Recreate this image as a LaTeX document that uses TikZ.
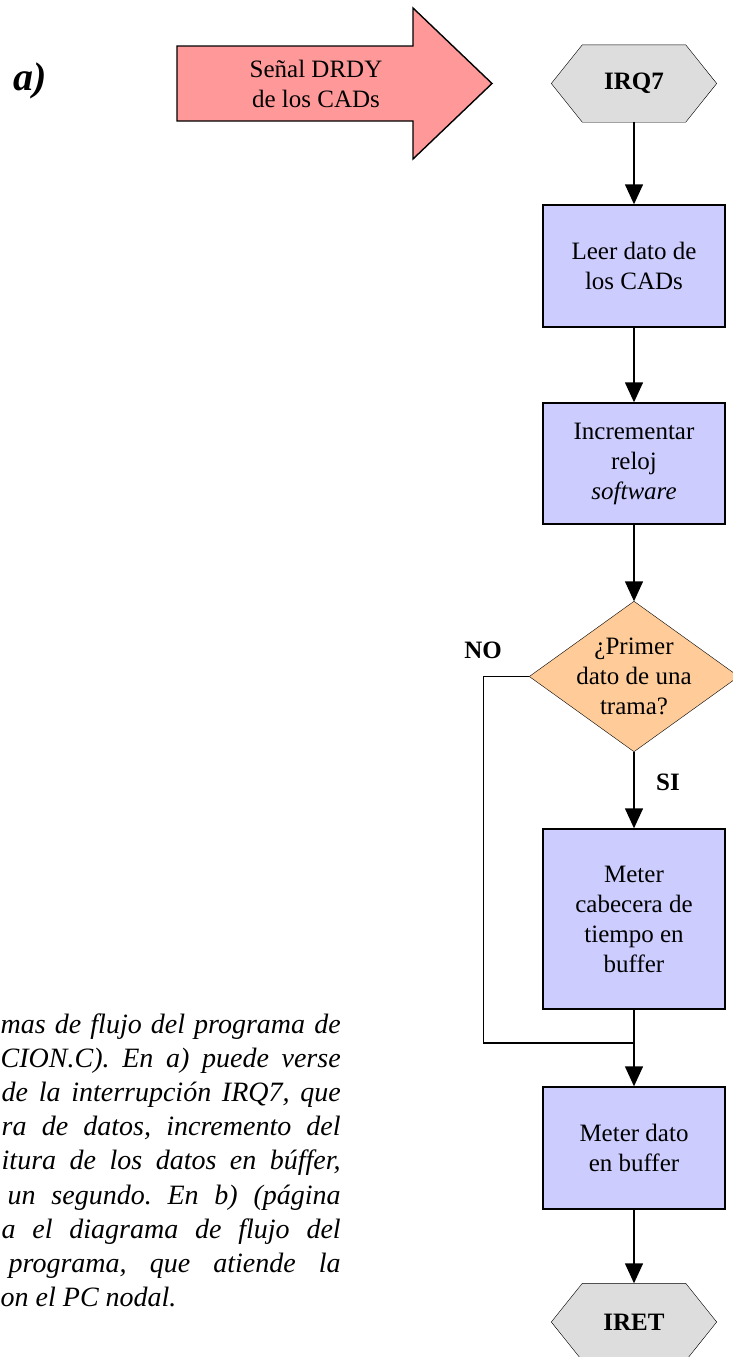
\documentclass[tikz,border=0pt]{standalone}
\usepackage{fontspec}
\setmainfont{Liberation Serif}
\usetikzlibrary{arrows.meta,backgrounds}
\definecolor{pinkfill}{HTML}{FF9999}
\definecolor{boxfill}{HTML}{CCCCFF}
\definecolor{decfill}{HTML}{FFCC99}
\definecolor{hexfill}{HTML}{DDDDDD}
\begin{document}
\begin{tikzpicture}[x=1pt,y=-1pt,line width=1.4pt,
  txt/.style={font=\fontsize{25}{30}\selectfont},
  proc/.style={txt,draw,fill=boxfill,minimum width=182pt,minimum height=122pt,inner sep=0pt,align=center},
  hexa/.style={txt,minimum width=164pt,minimum height=76pt,inner sep=0pt,font=\fontsize{25}{30}\selectfont\bfseries},
  decis/.style={txt,minimum width=208pt,minimum height=149pt,inner sep=0pt,align=center},
  flow/.style={-{Triangle[length=20pt,width=18pt]}},
  lbl/.style={font=\fontsize{25}{30}\selectfont\bfseries,inner sep=0pt},
  captxt/.style={font=\fontsize{28}{34}\selectfont\itshape\frenchspacing,inner sep=0pt,anchor=base west}]
\useasboundingbox (0,0) rectangle (733,1357);

% label a)
\node[font=\fontsize{40}{44}\selectfont\bfseries\itshape,inner sep=0pt,anchor=base west] (lab) at (13,90) {a)};

% signal arrow
\draw[fill=pinkfill] (177,46) -- (413,46) -- (413,8) -- (492,83.5) -- (413,159) -- (413,121) -- (177,121) -- cycle;
\node[txt,align=center,inner sep=0pt] (sig) at (316,83.5) {Señal DRDY\\de los CADs};

% flowchart nodes
\node[hexa] (irq) at (634,83.5) {IRQ7};
\node[proc] (b1) at (634,266) {Leer dato de\\los CADs};
\node[proc,minimum height=121pt] (b2) at (634,463.5) {Incrementar\\reloj\\\textit{software}};
\node[decis] (dec) at (634,676.5) {¿Primer\\dato de una\\trama?};
\node[proc,minimum height=180pt] (b3) at (634,919) {Meter\\cabecera de\\tiempo en\\buffer};
\node[proc] (b4) at (634,1148) {Meter dato\\en buffer};
\node[hexa] (iret) at (634,1322) {IRET};
\coordinate (mrg) at (634,1043);

\begin{scope}[on background layer]
\draw[fill=hexfill] (irq.west) -- ([xshift=31pt]irq.north west) -- ([xshift=-31pt]irq.north east) -- (irq.east) -- ([xshift=-31pt]irq.south east) -- ([xshift=31pt]irq.south west) -- cycle;
\draw[fill=hexfill] (iret.west) -- ([xshift=31pt]iret.north west) -- ([xshift=-31pt]iret.north east) -- (iret.east) -- ([xshift=-31pt]iret.south east) -- ([xshift=31pt]iret.south west) -- cycle;
\draw[fill=decfill] (dec.north) -- (dec.east) -- (dec.south) -- (dec.west) -- cycle;
\end{scope}

% labels
\node[lbl] (no) at (483,650) {NO};
\node[lbl] (si) at (668,782) {SI};

% connectors
\draw[flow] (irq.south) -- (b1.north);
\draw[flow] (b1.south) -- (b2.north);
\draw[flow] (b2.south) -- (dec.north);
\draw[flow] (dec.south) -- (b3.north);
\draw (dec.west) -- ++(-46,0) |- (mrg);
\draw (b3.south) -- (mrg);
\draw[flow] (mrg) -- (b4.north);
\draw[flow] (b4.south) -- (iret.north);

% caption fragment
\node[captxt] (c1) at (0,1033) {\makebox[340pt][s]{mas de flujo del programa de}};
\node[captxt] (c2) at (0,1067) {\makebox[340pt][s]{CION.C). En a) puede verse}};
\node[captxt] (c3) at (1,1101) {\makebox[339pt][s]{de la interrupción IRQ7, que}};
\node[captxt] (c4) at (1,1135) {\makebox[339pt][s]{ra de datos, incremento del}};
\node[captxt] (c5) at (1,1169) {\makebox[339pt][s]{itura de los datos en búffer,}};
\node[captxt] (c6) at (7,1204) {\makebox[333pt][s]{un segundo. En b) (página}};
\node[captxt] (c7) at (1,1238) {\makebox[339pt][s]{a el diagrama de flujo del}};
\node[captxt] (c8) at (8,1272) {\makebox[332pt][s]{programa, que atiende la}};
\node[captxt] (c9) at (0,1306) {on el PC nodal.};
\end{tikzpicture}
\end{document}
